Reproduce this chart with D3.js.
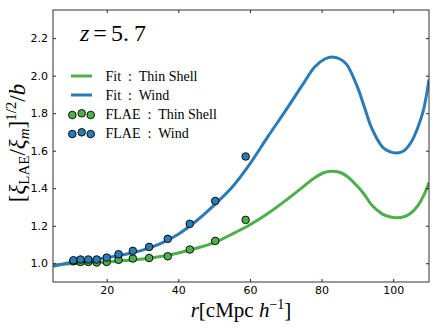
<!DOCTYPE html>
<html>
<head>
<meta charset="utf-8">
<script src="https://cdn.jsdelivr.net/npm/d3@7"></script>
<style>
  body { margin: 0; background: #fff; }
  .tick-label { font-family: "DejaVu Sans", sans-serif; font-size: 11px; fill: #000; }
  .math { font-family: "Liberation Serif", serif; fill: #000; white-space: pre; }
</style>
</head>
<body>
<svg id="chart" width="443" height="332"></svg>
<script>
// fitted curves
const fitR     = [5, 10, 15, 20, 25, 30, 35, 40, 45, 50, 55, 60, 65, 70, 75, 78, 81, 83, 85, 87, 90, 92, 94, 97, 99, 101, 103, 105, 107, 108.5, 110]
const fitShell = [0.99, 0.997, 1.002, 1.007, 1.014, 1.023, 1.036, 1.055, 1.08, 1.11, 1.155, 1.205, 1.265, 1.335, 1.41, 1.455, 1.485, 1.49, 1.485, 1.465, 1.41, 1.365, 1.31, 1.262, 1.248, 1.243, 1.248, 1.268, 1.31, 1.36, 1.43]
const fitWind  = [0.984, 1.004, 1.016, 1.03, 1.047, 1.07, 1.105, 1.155, 1.225, 1.31, 1.405, 1.53, 1.675, 1.815, 1.96, 2.045, 2.09, 2.10, 2.09, 2.06, 1.94, 1.83, 1.72, 1.62, 1.595, 1.588, 1.60, 1.645, 1.73, 1.82, 1.98]

// FLAE measurements
const flaeR     = [10.7, 12.7, 14.85, 17.2, 20, 23.3, 27.3, 31.85, 37.05, 43.2, 50.3, 58.8]
const flaeShell = [1.011, 1.007, 1.007, 1.004, 1.007, 1.018, 1.025, 1.028, 1.037, 1.073, 1.119, 1.231]
const flaeWind  = [1.016, 1.02, 1.02, 1.02, 1.03, 1.048, 1.066, 1.087, 1.13, 1.21, 1.332, 1.569]

const xTicks = [20, 40, 60, 80, 100]
const yTicks = [1.0, 1.2, 1.4, 1.6, 1.8, 2.0, 2.2]

const green = "#4daf4a"
const blue = "#2b7bb4"

const svg = d3.select("#chart")
const mLeft = 53, mRight = 429, mTop = 10, mBottom = 282

const x = d3.scaleLinear().domain([5, 110]).range([mLeft, mRight])
const y = d3.scaleLinear().domain([0.9, 2.35]).range([mBottom, mTop])

svg.append("defs").append("clipPath").attr("id", "clip")
  .append("rect").attr("x", mLeft).attr("y", mTop).attr("width", mRight - mLeft).attr("height", mBottom - mTop)
const plot = svg.append("g").attr("clip-path", "url(#clip)")

const line = vals => d3.line()
  .x((d, i) => x(fitR[i]))
  .y(d => y(d))
  .curve(d3.curveCatmullRom)(vals)

plot.append("path").attr("d", line(fitShell))
  .attr("fill", "none").attr("stroke", green).attr("stroke-width", 3)
plot.append("path").attr("d", line(fitWind))
  .attr("fill", "none").attr("stroke", blue).attr("stroke-width", 3)

plot.selectAll(".pshell").data(flaeR).join("circle")
  .attr("class", "pshell")
  .attr("cx", d => x(d)).attr("cy", (d, i) => y(flaeShell[i])).attr("r", 3.8)
  .attr("fill", green).attr("stroke", "#000").attr("stroke-width", 0.9)
plot.selectAll(".pwind").data(flaeR).join("circle")
  .attr("class", "pwind")
  .attr("cx", d => x(d)).attr("cy", (d, i) => y(flaeWind[i])).attr("r", 3.8)
  .attr("fill", blue).attr("stroke", "#000").attr("stroke-width", 0.9)

// axes (inward ticks on all sides)
const tl = 3
svg.append("g").attr("transform", `translate(0,${mBottom})`)
  .call(d3.axisBottom(x).tickValues(xTicks).tickSizeInner(-tl).tickSizeOuter(0).tickPadding(4))
  .call(g => g.select(".domain").remove())
svg.append("g").attr("transform", `translate(0,${mTop})`)
  .call(d3.axisTop(x).tickValues(xTicks).tickSizeInner(-tl).tickSizeOuter(0).tickFormat(""))
  .call(g => g.select(".domain").remove())
svg.append("g").attr("transform", `translate(${mLeft},0)`)
  .call(d3.axisLeft(y).tickValues(yTicks).tickSizeInner(-tl).tickSizeOuter(0).tickPadding(5).tickFormat(d3.format(".1f")))
  .call(g => g.select(".domain").remove())
svg.append("g").attr("transform", `translate(${mRight},0)`)
  .call(d3.axisRight(y).tickValues(yTicks).tickSizeInner(-tl).tickSizeOuter(0).tickFormat(""))
  .call(g => g.select(".domain").remove())

svg.selectAll(".tick text").attr("class", "tick-label")
svg.selectAll("g[font-family]").attr("font-family", null).attr("font-size", null)
svg.selectAll(".tick line").attr("stroke", "#222")

svg.append("rect").attr("x", mLeft).attr("y", mTop).attr("width", mRight - mLeft).attr("height", mBottom - mTop)
  .attr("fill", "none").attr("stroke", "#333").attr("stroke-width", 1)

// z label
const zt = svg.append("text").attr("class", "math").attr("x", 80).attr("y", 41).attr("font-size", 24)
zt.append("tspan").attr("font-style", "italic").text("z")
zt.append("tspan").attr("dx", 4).text("=")
zt.append("tspan").attr("dx", 4).text("5.")
zt.append("tspan").attr("dx", 5).text("7")

// legend
const legendItems = [
  {label: "Fit : Thin Shell", color: green, type: "line"},
  {label: "Fit : Wind", color: blue, type: "line"},
  {label: "FLAE : Thin Shell", color: green, type: "dots"},
  {label: "FLAE : Wind", color: blue, type: "dots"},
]
const leg = svg.append("g")
legendItems.forEach((d, i) => {
  const cy = 76 + i * 19
  if (d.type == "line") {
    leg.append("line").attr("x1", 71).attr("x2", 92).attr("y1", cy).attr("y2", cy)
      .attr("stroke", d.color).attr("stroke-width", 3)
  } else {
    [[72.3, 1], [81.7, -0.7], [90.7, 1]].forEach(p => {
      leg.append("circle").attr("cx", p[0]).attr("cy", cy + p[1]).attr("r", 3.8)
        .attr("fill", d.color).attr("stroke", "#000").attr("stroke-width", 0.9)
    })
  }
  leg.append("text").attr("class", "math").attr("x", 105.5).attr("y", cy + 4.5)
    .attr("font-size", 14).text(d.label.replace(" : ", "  :  "))
})

// x label
const xl = svg.append("text").attr("class", "math").attr("x", 241).attr("y", 317)
  .attr("text-anchor", "middle").attr("font-size", 21)
xl.append("tspan").attr("font-style", "italic").text("r")
xl.append("tspan").text("[cMpc ")
xl.append("tspan").attr("font-style", "italic").text("h")
xl.append("tspan").attr("font-size", 14).attr("dy", -8).text("\u22121")
xl.append("tspan").attr("dy", 8).text("]")

// y label
const yl = svg.append("text").attr("class", "math")
  .attr("transform", "translate(25,143) rotate(-90)")
  .attr("text-anchor", "middle").attr("font-size", 23)
yl.append("tspan").text("[")
yl.append("tspan").attr("font-style", "italic").text("\u03be")
yl.append("tspan").attr("font-size", 15).attr("dy", 4).text("LAE")
yl.append("tspan").attr("dy", -4).text("/")
yl.append("tspan").attr("font-style", "italic").text("\u03be")
yl.append("tspan").attr("font-size", 15).attr("font-style", "italic").attr("dy", 4).text("m")
yl.append("tspan").attr("dy", -4).text("]")
yl.append("tspan").attr("font-size", 15).attr("dy", -9).text("1/2")
yl.append("tspan").attr("dy", 9).text("/")
yl.append("tspan").attr("font-style", "italic").text("b")
</script>
</body>
</html>
